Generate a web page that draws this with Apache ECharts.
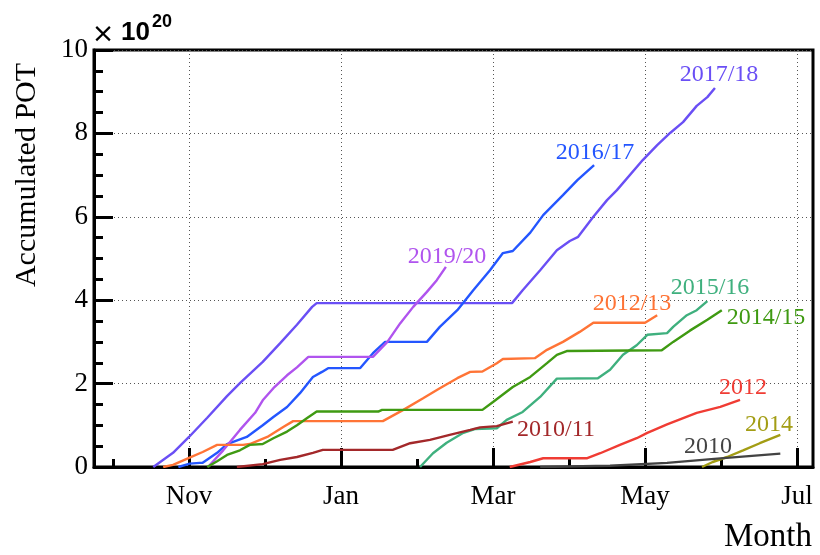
<!DOCTYPE html>
<html>
<head>
<meta charset="utf-8">
<script src="https://cdn.jsdelivr.net/npm/echarts@6/dist/echarts.min.js"></script>
<style>
  html, body { margin: 0; padding: 0; background: #fff; }
  #chart { width: 820px; height: 555px; }
</style>
</head>
<body>
<div id="chart"></div>
<script>
// x = months since 1 October, y = accumulated POT in units of 1e20
const monthTicks = [1, 3, 5, 7, 9];
const monthNames = ['Nov', 'Jan', 'Mar', 'May', 'Jul'];
const minorMonthTicks = [0, 2, 4, 6, 8];

const seasonNames = ['2017/18', '2016/17', '2019/20', '2012/13', '2015/16', '2014/15',
                     '2012', '2010/11', '2014', '2010'];
const seasonColors = ['#6a4ff5', '#2456ff', '#b054ee', '#ff7436', '#3fb07e', '#3f9a12',
                      '#f03c34', '#a3282a', '#a39d14', '#434343'];

const pot2017_18 = [[0.53,0],[0.79,0.34],[1.0,0.72],[1.24,1.18],[1.5,1.70],[1.67,2.01],[1.97,2.52],
  [2.20,2.97],[2.42,3.41],[2.62,3.84],[2.68,3.93],[5.25,3.93],[5.26,3.96],[5.39,4.24],[5.62,4.72],
  [5.84,5.20],[6.01,5.42],[6.12,5.52],[6.32,6.0],[6.5,6.40],[6.63,6.64],[6.97,7.36],[7.16,7.72],
  [7.33,8.01],[7.5,8.27],[7.68,8.66],[7.82,8.87],[7.92,9.09]];
const pot2016_17 = [[0.86,0],[1.01,0.08],[1.14,0.1],[1.18,0.1],[1.37,0.34],[1.5,0.55],[1.76,0.72],
  [1.97,1.0],[2.11,1.2],[2.29,1.44],[2.46,1.77],[2.63,2.16],[2.75,2.28],[2.83,2.37],[3.25,2.37],
  [3.42,2.73],[3.58,3.0],[4.13,3.0],[4.30,3.36],[4.53,3.76],[4.74,4.24],[4.96,4.72],[5.13,5.13],
  [5.26,5.18],[5.49,5.62],[5.66,6.04],[5.92,6.52],[6.11,6.88],[6.33,7.24]];
const pot2019_20 = [[1.25,0],[1.45,0.40],[1.67,0.89],[1.87,1.30],[1.97,1.60],[2.11,1.89],[2.29,2.20],
  [2.42,2.39],[2.57,2.64],[3.42,2.64],[3.61,3.0],[3.78,3.45],[3.95,3.84],[4.13,4.20],[4.26,4.48],
  [4.38,4.80]];
const pot2012_13 = [[0.66,0],[0.79,0.05],[1.0,0.22],[1.18,0.36],[1.37,0.53],[1.71,0.53],[1.80,0.55],
  [2.03,0.72],[2.24,0.96],[2.37,1.10],[3.55,1.10],[3.82,1.37],[4.08,1.65],[4.30,1.89],[4.53,2.13],
  [4.70,2.28],[4.86,2.29],[5.05,2.49],[5.13,2.59],[5.55,2.61],[5.71,2.81],[5.92,3.0],[6.14,3.24],
  [6.32,3.46],[7.0,3.46],[7.16,3.64]];
const pot2015_16 = [[4.04,0],[4.21,0.33],[4.39,0.58],[4.61,0.82],[4.76,0.91],[5.05,0.93],[5.18,1.13],
  [5.39,1.32],[5.62,1.68],[5.84,2.12],[6.38,2.13],[6.54,2.33],[6.71,2.69],[6.89,2.92],[7.03,3.17],
  [7.29,3.21],[7.37,3.36],[7.55,3.64],[7.68,3.76],[7.82,3.98]];
const pot2014_15 = [[1.24,0],[1.37,0.14],[1.5,0.29],[1.67,0.40],[1.80,0.53],[1.97,0.55],[2.11,0.69],
  [2.29,0.85],[2.42,1.0],[2.55,1.17],[2.68,1.33],[3.49,1.33],[3.54,1.37],[4.86,1.37],[5.0,1.56],
  [5.26,1.92],[5.49,2.16],[5.71,2.49],[5.84,2.69],[5.97,2.78],[7.22,2.80],[7.37,3.0],[7.59,3.27],
  [7.82,3.53],[8.01,3.76]];
const pot2012 = [[5.22,0],[5.49,0.12],[5.66,0.21],[6.24,0.21],[6.41,0.33],[6.67,0.53],[6.89,0.69],
  [7.03,0.82],[7.29,1.02],[7.68,1.30],[7.99,1.44],[8.25,1.61]];
const pot2010_11 = [[1.63,0],[1.97,0.07],[2.2,0.17],[2.42,0.24],[2.63,0.34],[2.76,0.41],[3.68,0.41],
  [3.91,0.57],[4.17,0.65],[4.43,0.77],[4.70,0.89],[4.83,0.95],[5.05,0.98],[5.26,1.09]];
const pot2014 = [[7.75,0],[7.89,0.12],[8.08,0.24],[8.29,0.40],[8.51,0.57],[8.78,0.77]];
const pot2010 = [[5.62,0],[6.54,0.03],[7.29,0.10],[7.95,0.20],[8.78,0.32]];

const seasonData = [pot2017_18, pot2016_17, pot2019_20, pot2012_13, pot2015_16, pot2014_15,
                    pot2012, pot2010_11, pot2014, pot2010];

// text anchors (pixel centres) for the season names
const seasonLabelPos = [[719, 75], [595, 153], [447, 257], [632, 304], [710, 288], [766, 318],
                        [743, 388], [556, 430], [769, 425], [708, 447]];

const serif = '"Liberation Serif", "DejaVu Serif", serif';
const sans = '"Liberation Sans", Arial, sans-serif';

const chart = echarts.init(document.getElementById('chart'), null, { renderer: 'canvas' });

const series = seasonNames.map((name, i) => ({
  name: name,
  type: 'line',
  data: seasonData[i],
  showSymbol: false,
  symbol: 'none',
  lineStyle: { color: seasonColors[i], width: 2.4 },
  z: 3
}));

const graphics = seasonNames.map((name, i) => ({
  type: 'text',
  x: seasonLabelPos[i][0],
  y: seasonLabelPos[i][1],
  style: {
    text: name,
    fill: seasonColors[i],
    font: '24px ' + serif,
    textAlign: 'center',
    textVerticalAlign: 'middle'
  },
  z: 10
}));

graphics.push(
  {
    type: 'text', x: 27, y: 175, rotation: Math.PI / 2,
    style: { text: 'Accumulated POT', fill: '#000', font: '30px ' + serif,
             textAlign: 'center', textVerticalAlign: 'middle' }
  },
  {
    type: 'text', x: 812, y: 537,
    style: { text: 'Month', fill: '#000', font: '33px ' + serif,
             textAlign: 'right', textVerticalAlign: 'middle' }
  },
  {
    type: 'text', x: 103, y: 35,
    style: { text: '\u00d7', fill: '#000', font: '27px "DejaVu Sans", sans-serif',
             textAlign: 'center', textVerticalAlign: 'middle' }
  },
  {
    type: 'text', x: 121, y: 33,
    style: { text: '10', fill: '#000', font: 'bold 26px ' + sans,
             textAlign: 'left', textVerticalAlign: 'middle' }
  },
  {
    type: 'text', x: 152, y: 22,
    style: { text: '20', fill: '#000', font: 'bold 18px ' + sans,
             textAlign: 'left', textVerticalAlign: 'middle' }
  }
);

const gridLine = { show: true, lineStyle: { color: '#555', width: 1, type: [1, 3] } };

chart.setOption({
  animation: false,
  backgroundColor: '#fff',
  grid: {
    left: 94, right: 7, top: 50, bottom: 88,
    show: true, borderColor: '#000', borderWidth: 3, backgroundColor: 'transparent'
  },
  xAxis: [
    {
      type: 'value', min: -0.25, max: 9.21, position: 'bottom',
      axisLine: { show: true, onZero: false, lineStyle: { color: '#000', width: 3 } },
      axisTick: { show: true, inside: true, length: 19, customValues: monthTicks,
                  lineStyle: { color: '#000', width: 3 } },
      axisLabel: {
        show: true, customValues: monthTicks, margin: 16, color: '#000',
        fontFamily: serif, fontSize: 27,
        formatter: v => monthNames[monthTicks.indexOf(Math.round(v))] || ''
      },
      splitLine: gridLine
    },
    {
      type: 'value', min: -0.25, max: 9.21, position: 'bottom', offset: 0,
      axisLine: { show: false },
      axisTick: { show: true, inside: true, length: 8, customValues: minorMonthTicks,
                  lineStyle: { color: '#000', width: 3 } },
      axisLabel: { show: false },
      splitLine: { show: false }
    }
  ],
  yAxis: {
    type: 'value', min: 0, max: 10, interval: 2,
    axisLine: { show: true, onZero: false, lineStyle: { color: '#000', width: 3 } },
    axisTick: { show: true, inside: true, length: 19, lineStyle: { color: '#000', width: 3 } },
    minorTick: { show: true, splitNumber: 4, length: 9, lineStyle: { color: '#000', width: 3 } },
    axisLabel: { margin: 6, color: '#000', fontFamily: serif, fontSize: 27 },
    splitLine: gridLine
  },
  series: series,
  graphic: graphics
});
</script>
</body>
</html>
